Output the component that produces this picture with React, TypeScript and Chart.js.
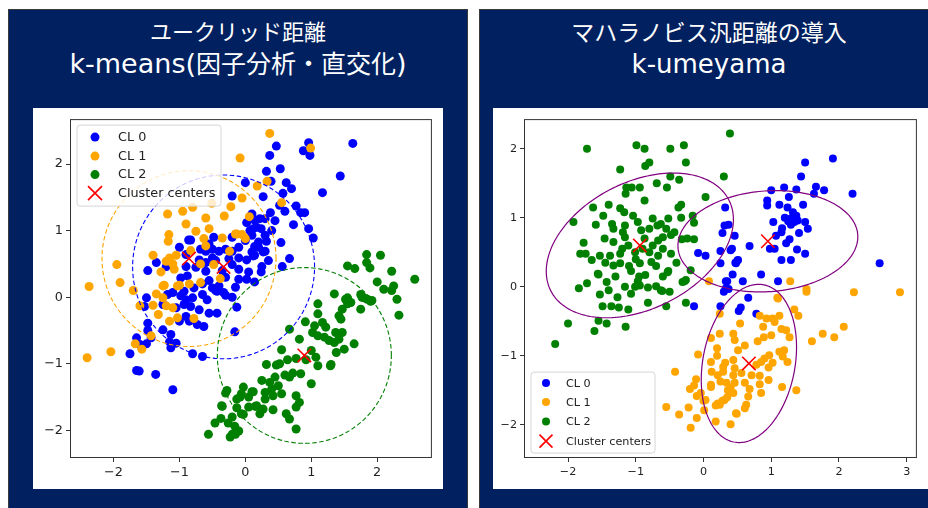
import React, { useEffect, useRef } from "react";
import { Chart, registerables } from "chart.js";

Chart.register(...registerables);

type Pt = [number, number];

// ---------------- text ----------------
const seriesLabels = ["CL 0", "CL 1", "CL 2", "Cluster centers"];
const leftTitle = ["ユークリッド距離", "k-means(因子分析・直交化)"];
const rightTitle = ["マハラノビス汎距離の導入", "k-umeyama"];

// ---------------- colours ----------------
const seriesColors = ["#0000ff", "#ffa500", "#008000"];
const centerColor = "#ff0000";
const ellipseColor = "#800080";

// ---------------- ticks / ranges ----------------
const leftXTicks = [-2, -1, 0, 1, 2];
const leftYTicks = [-2, -1, 0, 1, 2];
const rightXTicks = [-2, -1, 0, 1, 2, 3];
const rightYTicks = [-2, -1, 0, 1, 2];
const leftXRange: Pt = [-2.66, 2.83];
const leftYRange: Pt = [-2.415, 2.675];
const rightXRange: Pt = [-2.65, 3.15];
const rightYRange: Pt = [-2.48, 2.43];

// ---------------- left chart (k-means) ----------------
const leftCL0: Pt[] = [
  [0.96, 2.32], [0.88, 2.2], [0.98, 2.13], [1.63, 2.31], [0.47, 2.27], [0.37, 2.13], [0.53, 1.93], [0.32, 1.89],
  [0.39, 1.74], [0.0, 1.72], [-0.2, 1.52], [0.27, 1.51], [0.62, 1.72], [0.7, 1.63], [0.57, 1.56], [0.52, 1.38],
  [0.38, 1.27], [0.6, 1.29], [0.77, 1.37], [0.84, 1.27], [0.9, 1.27], [0.73, 1.09], [0.96, 1.03], [1.03, 0.89],
  [1.17, 1.57], [1.44, 1.82], [0.54, 0.82], [0.67, 0.58], [0.56, 0.46], [0.25, 0.46], [0.24, 0.38], [0.14, 0.23],
  [0.12, 1.03], [0.24, 1.03], [0.1, 0.93], [0.2, 0.83], [0.3, 0.93], [0.32, 0.84], [0.14, 0.76], [0.27, 0.68],
  [0.14, 0.63], [0.3, 1.18], [0.22, 1.18], [0.1, 1.25], [0.14, 1.16], [0.02, 1.12], [0.07, 1.0], [0.17, 1.05],
  [0.0, 0.85], [0.2, 0.75], [0.1, 0.68], [0.3, 0.69], [-0.1, 0.75], [-0.2, 0.69], [-0.3, 0.72], [-0.4, 0.69],
  [-0.5, 0.72], [-0.6, 0.69], [-0.68, 0.72], [-0.83, 0.86], [-1.0, 0.75], [-0.48, 0.9], [-0.2, 0.9], [-0.86, 0.86],
  [-0.55, 0.8], [-1.35, 0.52], [-1.48, 0.4], [-1.2, 0.46], [-0.9, 0.46], [-0.9, 0.64], [-0.7, 0.56], [-0.6, 0.39],
  [-0.5, 0.59], [-0.2, 0.49], [-0.1, 0.59], [0.02, 0.56], [0.12, 0.62], [0.02, 0.27], [-0.1, 0.27],
  [-0.98, 0.29], [-0.88, 0.32], [-0.78, 0.14], [-0.93, 0.09], [-1.1, 0.07], [-1.18, 0.04], [-0.98, 0.02], [-0.9, -0.04],
  [-0.8, -0.01], [-0.65, 0.04], [-0.5, 0.14], [-0.4, 0.17], [-0.43, 0.09], [-0.33, 0.07], [-0.2, 0.0], [-0.58, -0.04],
  [-1.5, -0.01], [-1.53, -0.14], [-1.25, -0.11], [-1.05, -0.16], [-0.93, -0.11], [-0.83, -0.14], [-0.7, -0.19],
  [-0.55, -0.24], [-0.43, -0.24], [-0.9, -0.29], [-1.0, -0.36], [-0.85, -0.36], [-0.73, -0.41], [-0.63, -0.44],
  [-1.48, -0.39], [-1.25, -0.49], [-1.48, -0.5], [-1.13, -0.56], [-1.43, -0.61], [-1.65, -0.61], [-1.6, -0.71],
  [-1.5, -0.7], [-1.15, -0.67], [-1.05, -0.69], [-1.13, -0.76], [-0.16, -0.52], [-1.75, -0.85], [-0.8, -0.85],
  [-0.65, -0.89], [-1.65, -1.1], [-1.61, -1.11], [-1.36, -1.16], [-1.1, -1.39], [-0.75, 0.45], [-0.35, 0.4],
  [-0.1, 0.42], [0.05, 0.38], [-0.45, 0.55], [-0.3, 0.3], [-0.55, 0.25], [-0.15, 0.15], [-0.65, 0.2], [0.35, 0.55],
  [0.4, 1.0], [0.45, 1.15], [-0.25, 0.58], [-0.6, 0.52], [-0.13, -0.15], [-0.3, 0.03], [-0.45, 0.1],
];
const leftCL1: Pt[] = [
  [0.37, 2.46], [0.99, 2.24], [-0.08, 2.09], [0.33, 1.74], [0.18, 1.67], [-0.05, 1.49], [0.55, 1.42], [-0.22, 1.36],
  [-0.32, 1.22], [-0.51, 1.41], [-0.8, 1.35], [-0.95, 1.29], [-1.18, 1.25], [-0.6, 1.19], [-0.9, 1.1], [-0.55, 1.03],
  [-0.75, 0.99], [-1.16, 0.94], [-1.17, 0.84], [-0.63, 0.88], [-0.6, 0.77], [-0.35, 0.89], [-0.15, 0.95], [-0.05, 0.94],
  [0.0, 0.88], [0.06, 1.21], [-1.4, 0.63], [-1.15, 0.59], [-1.05, 0.63], [-0.68, 0.5], [-1.95, 0.49], [-1.28, 0.38],
  [-1.9, 0.22], [-2.37, 0.16], [-1.23, 0.18], [-1.0, 0.18], [-0.68, 0.22], [-0.38, 0.28], [-1.7, 0.1], [-1.35, 0.05],
  [-1.25, 0.17], [-1.2, 0.54], [-1.1, 0.5], [-1.08, 0.42], [-1.03, 0.17], [-1.25, -0.01], [-1.6, -0.13], [-1.4, -0.12],
  [-1.32, -0.26], [-1.2, -0.13], [-1.1, -0.16], [-1.15, -0.36], [-1.03, -0.31], [-0.78, -0.32], [-0.85, 0.2],
  [-0.24, 0.69], [-0.83, 0.7], [-1.43, -0.58], [-1.67, -0.7], [-1.57, -0.78], [-2.4, -0.91], [-2.04, -0.82],
  [-0.48, 0.49], [-0.13, 0.95],
];
const leftCL2: Pt[] = [
  [1.35, 0.05], [1.52, -0.03], [1.55, -0.1], [1.47, -0.18], [1.6, -0.08], [1.42, -0.28], [1.45, -0.33], [1.75, -0.18],
  [1.77, 0.0], [1.85, -0.03], [1.92, -0.05], [2.3, -0.03], [2.33, -0.27], [2.1, 0.12], [2.22, 0.1], [1.1, -0.1],
  [1.1, -0.25], [1.17, -0.38], [1.05, -0.43], [1.22, -0.45], [1.02, -0.53], [1.1, -0.58], [1.2, -0.6], [1.27, -0.65],
  [1.35, -0.68], [1.37, -0.53], [1.47, -0.53], [1.42, -0.63], [1.5, -0.78], [1.38, -0.83], [1.65, -0.7], [0.91, -0.37],
  [0.67, -0.48], [0.82, -0.63], [0.55, -0.79], [1.0, -0.8], [1.07, -0.9], [1.1, -1.03], [1.29, -1.03], [0.92, -0.94],
  [0.77, -0.92], [0.64, -0.94], [0.47, -1.02], [0.32, -1.01], [0.52, -1.0], [0.72, -1.14], [0.84, -1.15], [0.67, -1.2],
  [0.6, -1.17], [1.0, -1.3], [0.45, -1.2], [0.25, -1.25], [0.37, -1.28], [0.5, -1.33], [0.4, -1.38], [0.3, -1.43],
  [0.55, -1.45], [0.12, -1.42], [0.42, -1.48], [0.77, -1.48], [0.82, -1.58], [0.3, -1.53], [0.17, -1.63], [0.27, -1.68],
  [0.42, -1.69], [0.05, -1.65], [0.77, -1.65], [0.62, -1.75], [0.67, -1.83], [0.22, -1.75], [0.77, -1.98],
  [-0.56, -2.06], [-0.46, -1.89], [-0.37, -1.82], [-0.26, -1.89], [-0.16, -1.94], [-0.2, -2.06], [-0.23, -2.1],
  [-0.15, -2.06], [-0.1, -2.01], [-0.2, -1.8], [-0.13, -1.66], [-0.35, -1.64], [-0.3, -1.44], [-0.28, -1.4],
  [-0.08, -1.5], [-0.06, -1.45], [-0.03, -1.35], [-0.03, -1.76], [0.15, -1.64], [0.1, -1.42], [-0.13, -1.53],
  [0.05, -1.5], [-0.06, -1.75], [-0.36, -1.63], [1.84, 0.64], [2.05, 0.63], [1.55, 0.47], [1.66, 0.43], [1.84, 0.52],
  [1.89, 0.44], [2.22, 0.39], [2.57, 0.27], [2.0, 0.23], [2.25, 0.17], [1.75, 0.04], [1.8, -0.01], [1.9, -0.06],
  [1.55, -0.01], [1.3, -1.01],
];
const leftCenters: Pt[] = [[-0.33, 0.455], [-0.855, 0.58], [0.895, -0.875]];
const leftRadii = [1.38, 1.32, 1.32];

// ---------------- right chart (k-umeyama) ----------------
const rightCL0: Pt[] = [
  [1.5, 1.8], [1.91, 1.86], [1.44, 1.6], [1.0, 1.4], [1.19, 1.44], [1.37, 1.41], [1.66, 1.45], [1.78, 1.4],
  [1.63, 1.35], [2.2, 1.35], [0.94, 1.25], [0.94, 1.18], [1.12, 1.19], [1.26, 1.3], [1.24, 1.15], [1.47, 1.19],
  [0.32, 1.15], [1.37, 1.03], [1.29, 0.99], [1.34, 0.94], [1.39, 0.96], [1.29, 0.9], [1.5, 0.94], [1.54, 0.84],
  [1.03, 0.94], [1.16, 0.85], [1.15, 0.79], [1.41, 0.78], [1.07, 0.74], [1.27, 0.69], [1.22, 0.63], [0.37, 0.9],
  [0.31, 0.89], [0.28, 0.78], [0.46, 0.74], [0.68, 0.59], [0.98, 0.55], [1.05, 0.55], [1.38, 0.54], [1.5, 0.48],
  [1.15, 0.39], [1.29, 0.39], [0.42, 0.55], [0.51, 0.39], [0.48, 0.34], [0.25, 0.34], [0.43, 0.18], [0.85, 0.18],
  [0.33, 0.08], [0.58, 0.08], [1.1, 0.08], [2.6, 0.34], [-0.08, 0.49], [0.03, 0.45], [0.25, 0.52], [0.4, 0.53],
  [0.5, 0.38], [0.47, 0.35], [0.35, 0.08], [0.33, -0.02], [0.3, -0.07], [-0.14, -0.28], [0.25, -0.28], [0.55, -0.3],
  [0.52, -0.35], [0.66, -0.16], [0.78, -0.39], [0.37, -0.03], [1.32, 1.08], [1.25, 0.95], [1.2, 1.0],
];
const rightCL1: Pt[] = [
  [2.22, -0.08], [2.9, -0.08], [1.52, -0.07], [1.52, -0.03], [1.1, -0.17], [1.34, -0.33], [1.4, -0.42], [2.07, -0.58],
  [1.76, -0.68], [1.93, -0.73], [1.6, -0.79], [0.83, -0.42], [0.93, -0.46], [1.02, -0.46], [1.12, -0.42], [1.05, -0.51],
  [0.88, -0.58], [1.15, -0.61], [1.22, -0.63], [1.27, -0.73], [1.0, -0.7], [0.89, -0.73], [0.54, -0.53], [0.44, -0.68],
  [0.46, -0.77], [0.8, -0.79], [0.61, -0.85], [0.51, -0.92], [1.19, -0.92], [1.12, -0.94], [1.17, -1.01], [1.24, -1.09],
  [0.97, -0.99], [0.9, -1.04], [0.85, -1.09], [1.02, -1.1], [0.78, -1.13], [0.96, -1.17], [0.44, -1.06], [0.32, -1.1],
  [0.46, -1.18], [0.29, -1.23], [0.44, -1.28], [0.56, -1.25], [0.71, -1.28], [0.83, -1.29], [0.96, -1.35], [0.34, -1.39],
  [0.46, -1.39], [0.61, -1.39], [0.83, -1.41], [1.16, -1.45], [1.37, -1.5], [0.36, -1.5], [0.44, -1.54], [0.68, -1.48],
  [0.85, -1.54], [0.66, -1.59], [0.31, -1.64], [0.24, -1.71], [0.63, -1.71], [0.61, -1.76], [0.48, -1.83], [0.4, -1.99],
  [0.08, 0.08], [1.28, 0.08], [1.09, -0.16], [0.24, -0.39], [0.24, -0.68], [0.11, -0.74], [0.2, -0.89], [-0.08, -0.98],
  [-0.42, -1.23], [0.12, -1.23], [0.11, -1.45], [-0.2, -1.48], [-0.11, -1.34], [-0.14, -1.43], [-0.1, -1.58], [0.0, -1.65],
  [0.18, -1.72], [-0.55, -1.74], [-0.22, -1.75], [-0.36, -1.85], [0.01, -1.79], [-0.1, -1.9], [0.18, -1.95], [-0.19, -2.04],
  [0.49, -1.84], [0.28, -1.65], [0.35, -1.6], [0.4, -1.46], [0.2, -1.0], [0.11, -1.09], [0.29, -1.16], [-0.04, -1.54],
  [0.03, -1.64], [0.11, -1.42], [0.21, -1.28], [0.25, -1.37], [0.21, -1.69],
];
const rightCL2: Pt[] = [
  [-1.72, 2.0], [-0.99, 2.05], [-0.87, 2.0], [-0.49, 2.0], [-0.29, 2.05], [-0.8, 1.8], [-0.86, 1.75], [-0.26, 1.8],
  [-1.23, 1.7], [-0.49, 1.6], [-0.36, 1.55], [-0.69, 1.5], [-0.54, 1.44], [-1.14, 1.44], [-1.06, 1.44], [-0.94, 1.44],
  [-1.15, 1.35], [-0.87, 1.25], [0.03, 1.3], [-0.33, 1.19], [-0.37, 1.15], [-1.63, 1.15], [-1.4, 1.19], [-1.23, 1.14],
  [-1.17, 1.08], [-1.48, 1.03], [-1.04, 1.03], [-0.33, 1.0], [-0.16, 1.03], [-1.92, 0.94], [-1.59, 0.9], [-1.35, 0.91],
  [-1.16, 0.89], [-0.97, 0.94], [-0.75, 0.99], [-0.63, 0.91], [-0.52, 0.99], [-0.14, 0.93], [-1.33, 0.84], [-1.19, 0.79],
  [-0.92, 0.82], [-0.8, 0.84], [-0.68, 0.89], [-0.55, 0.84], [-0.43, 0.79], [-1.46, 0.7], [-1.33, 0.65], [-1.16, 0.72],
  [-1.11, 0.6], [-0.87, 0.7], [-0.67, 0.67], [-0.6, 0.72], [-0.48, 0.75], [-0.32, 0.69], [-0.24, 0.7], [-0.14, 0.69],
  [-1.77, 0.64], [-1.82, 0.48], [-1.74, 0.48], [-1.53, 0.45], [-1.38, 0.45], [-1.45, 0.35], [-1.23, 0.48], [-1.01, 0.5],
  [-0.8, 0.5], [-0.67, 0.45], [-0.48, 0.48], [-1.33, 0.31], [-1.23, 0.34], [-0.94, 0.34], [-0.77, 0.36], [-0.53, 0.21],
  [-1.07, 0.23], [-1.56, 0.19], [-0.86, 0.17], [-0.19, 0.24], [-0.31, 0.07], [-0.26, 0.1], [-1.72, 0.05], [-1.84, -0.02],
  [-1.43, 0.07], [-1.4, -0.05], [-1.16, 0.0], [-1.01, 0.0], [-0.94, 0.02], [-0.82, -0.01], [-0.63, -0.05], [-0.5, -0.07],
  [0.39, 2.22], [0.3, 1.6], [-1.65, 0.39], [-1.55, 0.18], [-1.53, -0.11], [-1.49, -0.28], [-1.36, -0.28], [-1.25, -0.3],
  [-1.11, -0.33], [-1.27, -0.15], [-1.07, -0.1], [-0.97, 0.08], [-0.82, -0.23], [-0.7, 0.01], [-0.61, -0.06],
  [-0.55, -0.28], [-0.52, 0.23], [-0.28, 0.08], [-0.26, -0.23], [-2.0, -0.53], [-1.55, -0.49], [-1.43, -0.53],
  [-1.61, -0.64], [-1.15, -0.58], [-2.19, -0.83], [-1.2, 0.55], [-1.0, 0.4], [-0.9, 0.55], [-0.75, 0.6], [-0.6, 0.55],
  [-0.7, 0.3], [-1.1, 0.3], [-0.95, 0.15], [-0.6, 0.15], [-1.3, 0.15], [-0.4, 0.35],
];
const rightCenters: Pt[] = [[0.95, 0.66], [0.67, -1.11], [-0.94, 0.6]];
const rightSemiA = [1.33, 1.16, 1.47];
const rightSemiB = [0.73, 0.68, 0.92];
const rightAngleDeg = [4, 79, 26];

// ---------------- drawing helpers ----------------
type Shape = { cx: number; cy: number; a: number; b: number; angle: number; color: string };
type LegendBox = { x: number; y: number; w: number; h: number; rows: number[]; markX: number; textX: number };

type PanelCfg = {
  series: Pt[][];
  centers: Pt[];
  xRange: Pt;
  yRange: Pt;
  xTicks: number[];
  yTicks: number[];
  shapes: Shape[];
  dash: number[];
  shapeWidth: number;
  dot: number;
  cross: number;
  font: number;
  yAxisWidth: number;
  width: number;
  height: number;
  legend: LegendBox;
  legendCross: number;
};

const fmt = (v: number) => (v < 0 ? "\u2212" + Math.abs(v) : String(v));

function makeOverlay(cfg: PanelCfg) {
  return {
    id: "overlay",
    afterDatasetsDraw(chart: any) {
      const { ctx, chartArea: ca, scales } = chart;
      const xs = scales.x;
      const ys = scales.y;
      ctx.save();
      ctx.beginPath();
      ctx.rect(ca.left, ca.top, ca.right - ca.left, ca.bottom - ca.top);
      ctx.clip();
      cfg.shapes.forEach((sh) => {
        const th = (sh.angle * Math.PI) / 180;
        ctx.beginPath();
        const n = 200;
        for (let k = 0; k <= n; k++) {
          const t = (k / n) * Math.PI * 2;
          const dx = sh.a * Math.cos(t);
          const dy = sh.b * Math.sin(t);
          const X = sh.cx + dx * Math.cos(th) - dy * Math.sin(th);
          const Y = sh.cy + dx * Math.sin(th) + dy * Math.cos(th);
          const px = xs.getPixelForValue(X);
          const py = ys.getPixelForValue(Y);
          if (k === 0) ctx.moveTo(px, py);
          else ctx.lineTo(px, py);
        }
        ctx.strokeStyle = sh.color;
        ctx.lineWidth = cfg.shapeWidth;
        ctx.setLineDash(cfg.dash);
        ctx.stroke();
      });
      ctx.restore();
      ctx.save();
      ctx.strokeStyle = "#333";
      ctx.lineWidth = 1;
      ctx.setLineDash([]);
      ctx.strokeRect(ca.left + 0.5, ca.top + 0.5, ca.right - ca.left - 1, ca.bottom - ca.top - 1);
      ctx.restore();
    },
    afterDraw(chart: any) {
      const { ctx, chartArea: ca } = chart;
      const lg = cfg.legend;
      const bx = ca.left + lg.x;
      const by = ca.top + lg.y;
      ctx.save();
      const r = 3;
      ctx.beginPath();
      ctx.moveTo(bx + r, by);
      ctx.lineTo(bx + lg.w - r, by);
      ctx.arcTo(bx + lg.w, by, bx + lg.w, by + r, r);
      ctx.lineTo(bx + lg.w, by + lg.h - r);
      ctx.arcTo(bx + lg.w, by + lg.h, bx + lg.w - r, by + lg.h, r);
      ctx.lineTo(bx + r, by + lg.h);
      ctx.arcTo(bx, by + lg.h, bx, by + lg.h - r, r);
      ctx.lineTo(bx, by + r);
      ctx.arcTo(bx, by, bx + r, by, r);
      ctx.closePath();
      ctx.fillStyle = "rgba(255,255,255,0.8)";
      ctx.fill();
      ctx.strokeStyle = "#d6d6d6";
      ctx.lineWidth = 1;
      ctx.stroke();
      seriesLabels.forEach((label, i) => {
        const y = by + lg.rows[i];
        const mx = bx + lg.markX;
        if (i < 3) {
          ctx.beginPath();
          ctx.arc(mx, y, cfg.dot, 0, Math.PI * 2);
          ctx.fillStyle = seriesColors[i];
          ctx.fill();
        } else {
          const d = cfg.legendCross;
          ctx.beginPath();
          ctx.moveTo(mx - d, y - d);
          ctx.lineTo(mx + d, y + d);
          ctx.moveTo(mx - d, y + d);
          ctx.lineTo(mx + d, y - d);
          ctx.strokeStyle = centerColor;
          ctx.lineWidth = 1.6;
          ctx.stroke();
        }
        ctx.fillStyle = "#222";
        ctx.font = `${cfg.font}px "DejaVu Sans"`;
        ctx.textBaseline = "middle";
        ctx.textAlign = "left";
        ctx.fillText(label, bx + lg.textX, y + 0.5);
      });
      ctx.restore();
    },
  };
}

function ScatterPanel({ cfg, left, top }: { cfg: PanelCfg; left: number; top: number }) {
  const ref = useRef<HTMLCanvasElement | null>(null);
  useEffect(() => {
    if (!ref.current) return;
    const datasets: any[] = cfg.series.map((pts, i) => ({
      label: seriesLabels[i],
      data: pts.map(([x, y]) => ({ x, y })),
      pointRadius: cfg.dot,
      pointHoverRadius: cfg.dot,
      backgroundColor: seriesColors[i],
      borderWidth: 0,
      pointBorderWidth: 0,
      order: 3 - i,
      clip: 0,
    }));
    datasets.push({
      label: seriesLabels[3],
      data: cfg.centers.map(([x, y]) => ({ x, y })),
      pointStyle: "crossRot",
      pointRadius: cfg.cross,
      pointHoverRadius: cfg.cross,
      borderColor: centerColor,
      backgroundColor: centerColor,
      borderWidth: 1.6,
      pointBorderWidth: 1.6,
      order: 0,
      clip: 0,
    });
    const axis = (range: Pt, ticks: number[], isX: boolean) => ({
      type: "linear",
      min: range[0],
      max: range[1],
      afterBuildTicks: (s: any) => {
        s.ticks = ticks.map((v) => ({ value: v }));
      },
      afterFit: (s: any) => {
        if (isX) s.height = 31;
        else s.width = cfg.yAxisWidth;
      },
      ticks: {
        callback: (v: any) => fmt(Number(v)),
        font: { family: "DejaVu Sans", size: cfg.font },
        color: "#222",
        padding: 3,
        maxRotation: 0,
        autoSkip: false,
      },
      grid: { display: true, drawOnChartArea: false, drawTicks: true, tickLength: 4, color: "#333", lineWidth: 1 },
      border: { display: false },
    });
    const chart = new Chart(ref.current, {
      type: "scatter",
      data: { datasets },
      options: {
        responsive: false,
        animation: false,
        events: [],
        layout: { padding: { top: 10, right: 8, left: 0, bottom: 0 } },
        scales: { x: axis(cfg.xRange, cfg.xTicks, true), y: axis(cfg.yRange, cfg.yTicks, false) } as any,
        plugins: { legend: { display: false }, tooltip: { enabled: false } },
      },
      plugins: [makeOverlay(cfg) as any],
    });
    return () => chart.destroy();
  }, [cfg]);
  return (
    <canvas
      ref={ref}
      width={cfg.width}
      height={cfg.height}
      style={{ position: "absolute", left, top, width: cfg.width, height: cfg.height, background: "#fff" }}
    />
  );
}

const leftCfg: PanelCfg = {
  series: [leftCL0, leftCL1, leftCL2],
  centers: leftCenters,
  xRange: leftXRange,
  yRange: leftYRange,
  xTicks: leftXTicks,
  yTicks: leftYTicks,
  shapes: leftCenters.map(([cx, cy], i) => ({ cx, cy, a: leftRadii[i], b: leftRadii[i], angle: 0, color: seriesColors[i] })),
  dash: [4.5, 2.5],
  shapeWidth: 1.1,
  dot: 4.5,
  cross: 9.5,
  font: 12.8,
  yAxisWidth: 37,
  width: 410,
  height: 381,
  legend: { x: 7, y: 6, w: 144, h: 81, rows: [12, 31, 49.5, 68], markX: 18, textX: 41 },
  legendCross: 7,
};

const rightCfg: PanelCfg = {
  series: [rightCL0, rightCL1, rightCL2],
  centers: rightCenters,
  xRange: rightXRange,
  yRange: rightYRange,
  xTicks: rightXTicks,
  yTicks: rightYTicks,
  shapes: rightCenters.map(([cx, cy], i) => ({
    cx,
    cy,
    a: rightSemiA[i],
    b: rightSemiB[i],
    angle: rightAngleDeg[i],
    color: ellipseColor,
  })),
  dash: [],
  shapeWidth: 1.2,
  dot: 4,
  cross: 9.5,
  font: 11.2,
  yAxisWidth: 31,
  width: 435,
  height: 381,
  legend: { x: 7, y: 253, w: 124, h: 81, rows: [11, 30, 49.5, 69], markX: 15, textX: 35 },
  legendCross: 6.5,
};

function TitleLine({ text, cjk, latin, top }: { text: string; cjk: number; latin: number; top: number }) {
  const parts = text.split(/([\x00-\x7F]+)/).filter((p) => p.length > 0);
  return (
    <div
      style={{
        position: "absolute",
        left: 0,
        right: 0,
        top,
        textAlign: "center",
        color: "#ffffff",
        fontSize: cjk,
        lineHeight: "32px",
        whiteSpace: "nowrap",
      }}
    >
      {parts.map((p, i) =>
        /^[\x00-\x7F]+$/.test(p) ? (
          <span key={i} style={{ fontSize: latin }}>
            {p}
          </span>
        ) : (
          <span key={i}>{p}</span>
        )
      )}
    </div>
  );
}

const navy = "#002060";

export default function App() {
  return (
    <div
      style={{
        position: "absolute",
        left: 0,
        top: 0,
        width: 928,
        height: 508,
        overflow: "hidden",
        background: "#ffffff",
        fontFamily: '"DejaVu Sans", "Noto Sans CJK JP", sans-serif',
      }}
    >
      <div
        style={{
          position: "absolute",
          left: 8,
          top: 9,
          width: 460,
          height: 520,
          background: navy,
          borderTop: "1px solid #3a3a3a",
          borderLeft: "1px solid #3a3a3a",
          borderRight: "1px solid #3a3a3a",
          boxSizing: "border-box",
        }}
      >
        <TitleLine text={leftTitle[0]} cjk={22} latin={27} top={7} />
        <TitleLine text={leftTitle[1]} cjk={25} latin={27} top={38} />
      </div>
      <div
        style={{
          position: "absolute",
          left: 479,
          top: 9,
          width: 459,
          height: 520,
          background: navy,
          borderTop: "1px solid #3a3a3a",
          borderLeft: "1px solid #3a3a3a",
          boxSizing: "border-box",
        }}
      >
        <TitleLine text={rightTitle[0]} cjk={23} latin={26} top={7} />
        <TitleLine text={rightTitle[1]} cjk={23} latin={26} top={38} />
      </div>
      <ScatterPanel cfg={leftCfg} left={33} top={108} />
      <ScatterPanel cfg={rightCfg} left={493} top={108} />
    </div>
  );
}
